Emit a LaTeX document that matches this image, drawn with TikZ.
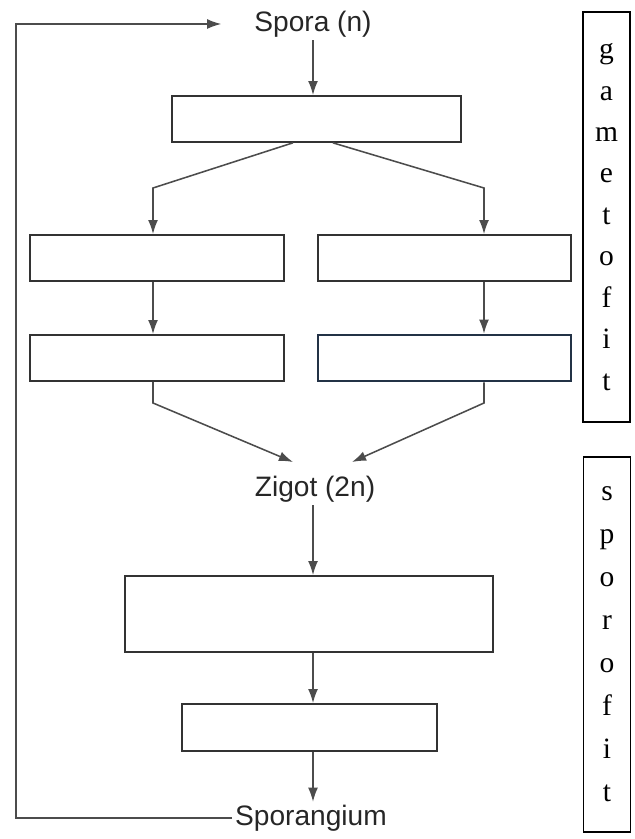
\documentclass[tikz,border=0pt]{standalone}
\usepackage{fontspec}
\setmainfont{Liberation Sans}
\newfontfamily\sidefont{Liberation Serif}
\usetikzlibrary{arrows.meta}

\begin{document}
\begin{tikzpicture}[>={Latex[length=10pt,width=7pt]},
	box/.style = {draw=black!80,line width=1.2pt,minimum height=1.15cm,inner sep=0pt},
	lbl/.style = {font=\fontsize{20}{24}\selectfont,text=black!85,inner sep=2pt},
	side/.style = {draw,line width=1.1pt,minimum width=1.175cm,align=center,inner sep=0pt,font=\sidefont\fontsize{21}{29.5}\selectfont},
	link/.style = {->,draw=black!70,line width=1.1pt}
	]
	\useasboundingbox (0,0) rectangle (15.875,20.975);
	%TESTI
	\node[lbl] (spora) at (7.825,20.375) {Spora (n)};
	\node[lbl] (zigot) at (7.875,8.75) {Zigot (2n)};
	\node[lbl] (sporangium) at (7.775,0.525) {Sporangium};
	%CASETTE
	\node[box,minimum width=7.225cm] (box1) at (7.9125,18.0) {};
	\node[box,minimum width=6.35cm] (box2L) at (3.925,14.525) {};
	\node[box,minimum width=6.325cm] (box2R) at (11.1125,14.525) {};
	\node[box,minimum width=6.35cm] (box3L) at (3.925,12.025) {};
	\node[box,minimum width=6.325cm,draw={rgb,255:red,35;green,50;blue,70},line width=1.8pt] (box3R) at (11.1125,12.025) {};
	\node[box,minimum width=9.2cm,minimum height=1.9cm] (box4) at (7.725,5.625) {};
	\node[box,minimum width=6.375cm,minimum height=1.175cm] (box5) at (7.7375,2.7875) {};
	%FASI
	\node[side,minimum height=10.25cm] (gametofit) at (15.1625,15.55) {g\\a\\m\\e\\t\\o\\f\\i\\t};
	\node[side,minimum height=9.375cm,font=\sidefont\fontsize{21}{30.6}\selectfont] (sporofit) at (15.175,4.8625) {s\\p\\o\\r\\o\\f\\i\\t};
	%Punti di svolta
	\coordinate (elbowL) at (3.825,16.275);
	\coordinate (elbowR) at (12.1,16.275);
	\coordinate (joinL) at (3.825,10.9);
	\coordinate (joinR) at (12.1,10.9);
	\coordinate (tipL) at (7.325,9.425);
	\coordinate (tipR) at (8.8,9.425);
	%Frecce
	\draw[link] (spora) -- (spora |- box1.north);
	\draw[link] ([xshift=-0.59cm]box1.south) -- (elbowL) -- (elbowL |- box2L.north);
	\draw[link] ([xshift=0.41cm]box1.south) -- (elbowR) -- (elbowR |- box2R.north);
	\draw[link] (elbowL |- box2L.south) -- (elbowL |- box3L.north);
	\draw[link] (elbowR |- box2R.south) -- (elbowR |- box3R.north);
	\draw[link] (elbowL |- box3L.south) -- (joinL) -- (tipL);
	\draw[link] (elbowR |- box3R.south) -- (joinR) -- (tipR);
	\draw[link] (spora |- zigot.south) -- (spora |- box4.north);
	\draw[link] (spora |- box4.south) -- (spora |- box5.north);
	\draw[link] (spora |- box5.south) -- (spora |- sporangium.north);
	%Ritorno
	\draw[link] (sporangium.west) -| (0.4,20.375) -- ([xshift=-0.75cm]spora.west);
\end{tikzpicture}
\end{document}
